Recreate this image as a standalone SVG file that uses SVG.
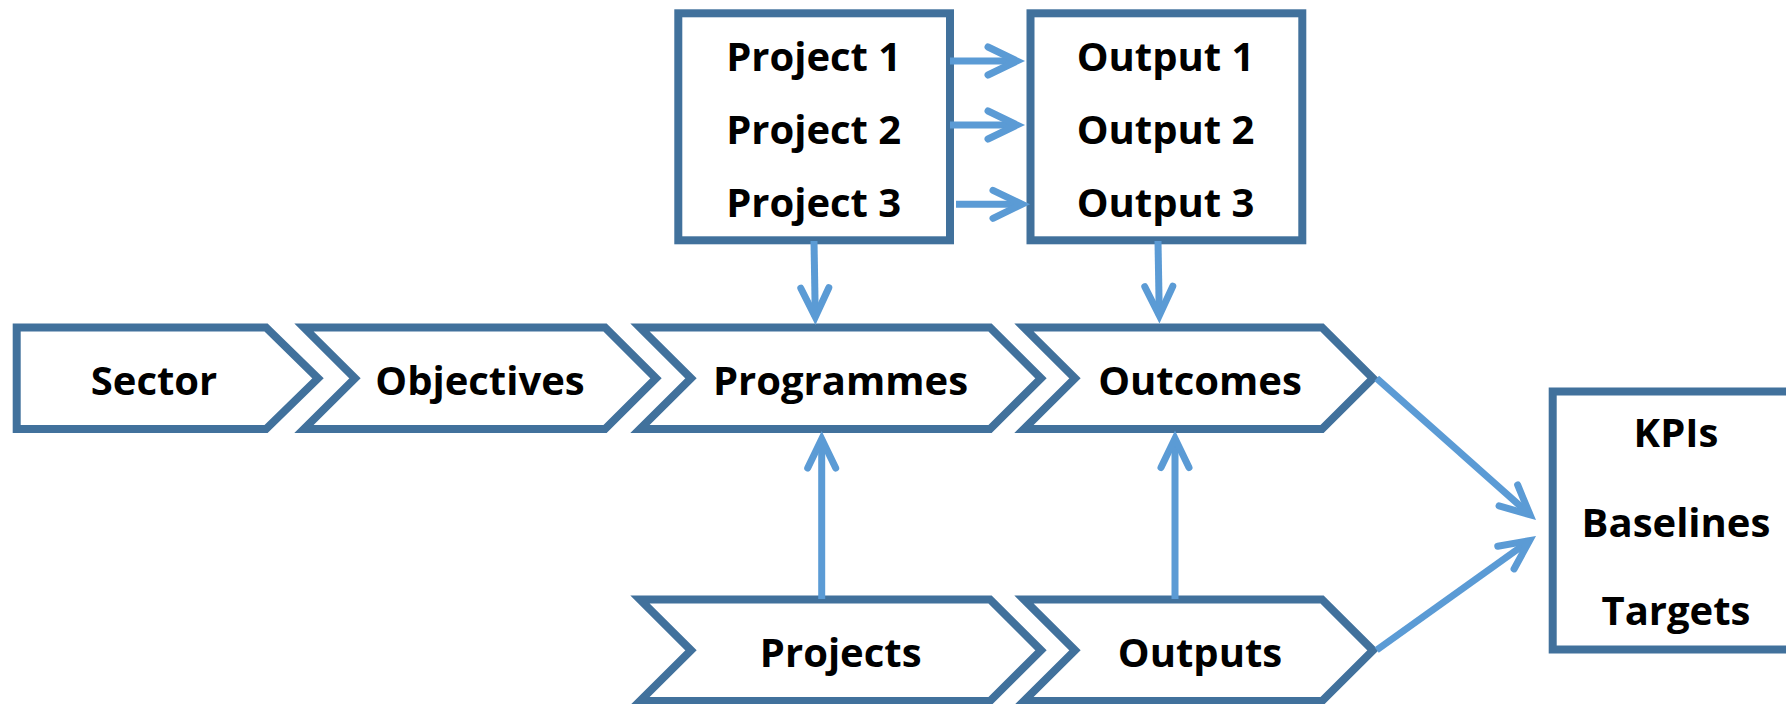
<svg xmlns="http://www.w3.org/2000/svg" width="1786" height="704" viewBox="0 0 1786 704">
  <style>
    .shape { fill: #FFFFFF; stroke: #41719C; stroke-width: 8; stroke-linejoin: miter; }
    .lbl { font-family: "Open Sans", "Liberation Sans", sans-serif; font-weight: 700; font-size: 40px; fill: #000000; text-anchor: middle; }
    .conn { fill: none; stroke: #5B9BD5; stroke-width: 7; marker-end: url(#ah); }
  </style>
  <defs>
    <marker id="ah" markerUnits="userSpaceOnUse" viewBox="-40 -40 80 80" markerWidth="80" markerHeight="80" refX="0" refY="0" orient="auto" overflow="visible">
      <path d="M-29,-14 L0,0 L-29,14" fill="none" stroke="#5B9BD5" stroke-width="7" stroke-linecap="round" stroke-linejoin="miter"/>
    </marker>
  </defs>
  <rect x="0" y="0" width="1786" height="704" fill="#FFFFFF"/>

  <g id="sector">
    <polygon class="shape" points="16.7,327.5 266,327.5 318,378.3 266,429 16.7,429"/>
    <text class="lbl" x="154" y="394.5">Sector</text>
  </g>
  <g id="objectives">
    <polygon class="shape" points="304,327.5 605,327.5 656,378.3 605,429 304,429 355,378.3"/>
    <text class="lbl" x="480" y="394.5">Objectives</text>
  </g>
  <g id="programmes">
    <polygon class="shape" points="640,327.5 990,327.5 1041,378.3 990,429 640,429 691,378.3"/>
    <text class="lbl" x="840.5" y="394.5">Programmes</text>
  </g>
  <g id="outcomes">
    <polygon class="shape" points="1024,327.5 1322,327.5 1373,378.3 1322,429 1024,429 1075,378.3"/>
    <text class="lbl" x="1200" y="394.5">Outcomes</text>
  </g>
  <g id="projects">
    <polygon class="shape" points="640,599.5 990,599.5 1041,650.3 990,701 640,701 691,650.3"/>
    <text class="lbl" x="840.7" y="667">Projects</text>
  </g>
  <g id="outputs">
    <polygon class="shape" points="1024,599.5 1322,599.5 1373,650.3 1322,701 1024,701 1075,650.3"/>
    <text class="lbl" x="1200" y="667">Outputs</text>
  </g>
  <g id="project-list">
    <rect class="shape" x="678.3" y="13.3" width="271.7" height="227"/>
    <text class="lbl" x="813.7" y="70.5">Project 1</text>
    <text class="lbl" x="813.7" y="143.8">Project 2</text>
    <text class="lbl" x="813.7" y="216.5">Project 3</text>
  </g>
  <g id="output-list">
    <rect class="shape" x="1030.5" y="13.3" width="271.8" height="227"/>
    <text class="lbl" x="1165.5" y="70.5">Output 1</text>
    <text class="lbl" x="1165.5" y="143.8">Output 2</text>
    <text class="lbl" x="1165.5" y="216.5">Output 3</text>
  </g>
  <g id="kpis">
    <rect class="shape" x="1552.7" y="391.5" width="250" height="258"/>
    <text class="lbl" x="1676" y="446.7">KPIs</text>
    <text class="lbl" x="1676" y="536.7">Baselines</text>
    <text class="lbl" x="1676" y="625">Targets</text>
  </g>

  <g id="connectors">
    <path class="conn" d="M950,61 L1017,61"/>
    <path class="conn" d="M950,125 L1017,125"/>
    <path class="conn" d="M956,204.3 L1022,204.3"/>
    <path class="conn" d="M814,241 L815.3,317"/>
    <path class="conn" d="M1158,241 L1159.3,315.5"/>
    <path class="conn" d="M821.7,599 L821.7,439"/>
    <path class="conn" d="M1175,599 L1175,438.5"/>
    <path class="conn" d="M1376.7,378.3 L1530,514.7"/>
    <path class="conn" d="M1376.7,650 L1529.5,540.7"/>
  </g>
</svg>
